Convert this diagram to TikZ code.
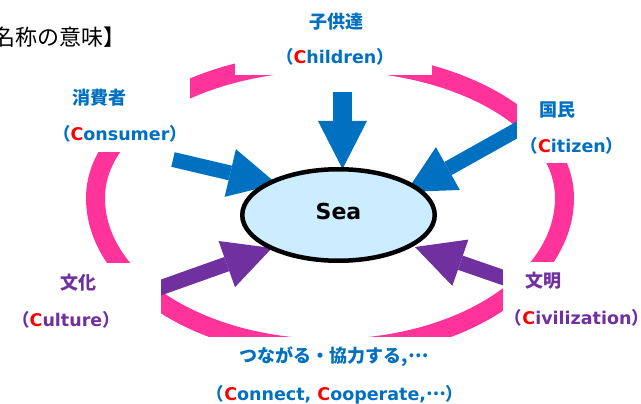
\documentclass[tikz,border=0pt]{standalone}
\usepackage{fontspec}
\setmainfont{DejaVu Sans}
\newfontfamily\jp{Noto Sans CJK JP}
\usetikzlibrary{arrows.meta,shapes.geometric}
\definecolor{ringpink}{HTML}{FF3399}
\definecolor{cblue}{HTML}{0070C0}
\definecolor{cpurple}{HTML}{7030A0}
\definecolor{seafill}{HTML}{CCECFF}
\definecolor{cred}{HTML}{FF0000}
\newcommand{\rc}{\textcolor{cred}{C}}
\newcommand{\jl}{{\jp （}}
\newcommand{\jr}{{\jp ）}}
\newcommand{\mdots}{\raisebox{0.3em}{\jp …}}
\begin{document}
\begin{tikzpicture}[x=1pt,y=-1pt,
  lbl/.style={inner sep=0pt, font=\fontsize{17.5}{20}\selectfont\bfseries},
  jlbl/.style={inner sep=0pt, font=\fontsize{18}{20}\selectfont\bfseries\jp},
  blockarrow/.style={line width=#1, -{Triangle[length=48pt,width=49pt,line width=0pt]}},
  cover/.style={fill=white}]
\clip (0,0) rectangle (641,404);
% pink ring
\fill[ringpink, even odd rule]
  (86,198) arc[start angle=180,end angle=360,x radius=244,y radius=146]
           arc[start angle=0,end angle=180,x radius=244,y radius=160] -- cycle
  (105,198) arc[start angle=180,end angle=360,x radius=225,y radius=127]
           arc[start angle=0,end angle=180,x radius=225,y radius=141] -- cycle;
% arrow end points
\coordinate (chT) at (342.5,92);   \coordinate (chH) at (342.5,169);
\coordinate (coT) at (173,159.5);  \coordinate (coH) at (277,184);
\coordinate (ciT) at (530,122.7);  \coordinate (ciH) at (406,192);
\coordinate (cuT) at (146.9,292.5);\coordinate (cuH) at (272,248);
\coordinate (cvT) at (517.2,282.4);\coordinate (cvH) at (415,247);
\draw[blockarrow=18.5pt, cblue] (chT) -- (chH);
\draw[blockarrow=15pt, cblue] (coT) -- (coH);
\draw[blockarrow=15pt, cblue] (ciT) -- (ciH);
\draw[blockarrow=15pt, cpurple] (cuT) -- (cuH);
\draw[blockarrow=15pt, cpurple] (cvT) -- (cvH);
% label backgrounds
\fill[cover] (235,0) rectangle (432,75);
\fill[cover] (0,0) rectangle (190,152);
\fill[cover] (517,0) rectangle (641,163);
\fill[cover] (0,263) rectangle (161,404);
\fill[cover] (503,262) rectangle (641,404);
\fill[cover] (0,337) rectangle (641,404);
% central ellipse
\node[ellipse, draw=black, line width=4.5pt, fill=seafill, minimum width=192.5pt,
      minimum height=91.5pt, inner sep=0pt, text height=16pt, text depth=8pt,
      font=\fontsize{22}{24}\selectfont\bfseries]
      (sea) at (338.5,215) {Sea};
% labels
\node[jlbl, text=cblue] (chj) at (336,21.5) {子供達};
\node[lbl, text=cblue] (che) at (335,57) {\jl\rc hildren\jr};
\node[jlbl, text=cblue] (coj) at (99.5,97.5) {消費者};
\node[lbl, text=cblue] (coe) at (120,134) {\jl\rc onsumer\jr};
\node[jlbl, text=cblue] (cij) at (557,110) {国民};
\node[lbl, text=cblue] (cie) at (572,146) {\jl\rc itizen\jr};
\node[jlbl, text=cpurple] (cuj) at (78,283) {文化};
\node[lbl, text=cpurple] (cue) at (66,320) {\jl\rc ulture\jr};
\node[jlbl, text=cpurple] (cvj) at (543,281) {文明};
\node[lbl, text=cpurple] (cve) at (577,318) {\jl\rc ivilization\jr};
\node[jlbl, text=cblue] (cnj) at (334,357) {つながる・協力する{\bfseries ,}\mdots};
\node[lbl, text=cblue] (cne) at (335,395) {\jl\rc onnect, \rc ooperate,\mdots\jr};
% title
\node[anchor=east, inner sep=0pt, font=\fontsize{22}{24}\selectfont\jp] (title) at (126,37) {【名称の意味】};
\end{tikzpicture}
\end{document}
